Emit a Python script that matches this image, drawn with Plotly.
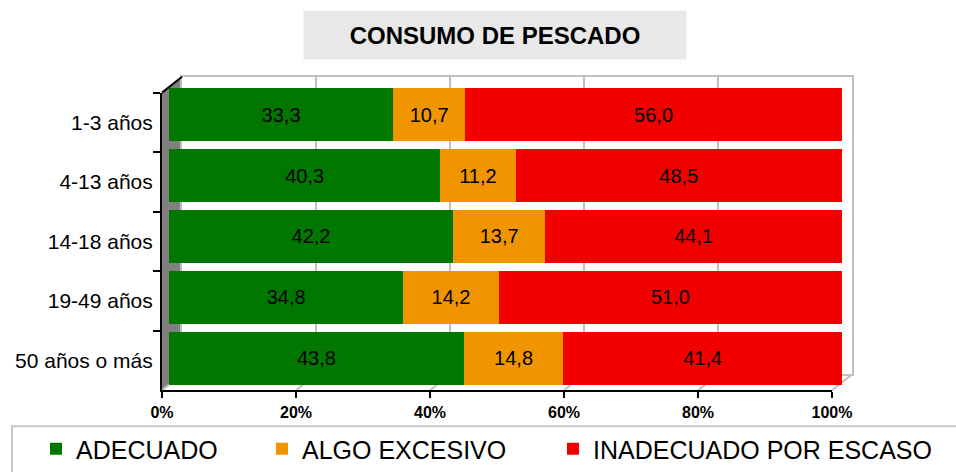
import plotly.graph_objects as go

W, H = 956, 472

categories = ["1-3 años", "4-13 años", "14-18 años", "19-49 años", "50 años o más"]
adecuado = [33.3, 40.3, 42.2, 34.8, 43.8]
algo_excesivo = [10.7, 11.2, 13.7, 14.2, 14.8]
inadecuado = [56.0, 48.5, 44.1, 51.0, 41.4]
series_names = ["ADECUADO", "ALGO EXCESIVO", "INADECUADO POR ESCASO"]
tick_values = [0, 20, 40, 60, 80, 100]
tick_labels = ["0%", "20%", "40%", "60%", "80%", "100%"]
title_text = "CONSUMO DE PESCADO"

colors = ["#007800", "#F09500", "#F20000"]
FONT = "Liberation Sans, Arial, sans-serif"


def fx(p):
    return p / W


def fy(p):
    return 1 - p / H


# geometry (pixels)
FRONT_L, FRONT_R, FRONT_T, FRONT_B = 162, 832, 93, 392
DX, DY = 20, -16
BACK_L, BACK_R, BACK_T, BACK_B = FRONT_L + DX, FRONT_R + DX, FRONT_T + DY, FRONT_B + DY
BAR_L, BAR_R, BAR_T, BAR_B = 169, 842, 84.4, 390.6
n = len(categories)

fig = go.Figure()

# back wall subplot (x / y)
fig.add_trace(go.Scatter(x=[], y=[], xaxis="x", yaxis="y", showlegend=False, hoverinfo="skip"))

# bars subplot (x2 / y2)
for name, vals, col, lg in zip(series_names, [adecuado, algo_excesivo, inadecuado], colors,
                               ["legend", "legend2", "legend3"]):
    fig.add_trace(go.Bar(
        y=categories, x=vals, name=name, orientation="h",
        xaxis="x2", yaxis="y2", legend=lg,
        marker=dict(color=col, line=dict(width=0)),
        text=vals, texttemplate="%{x:.1f}", textposition="inside",
        insidetextanchor="middle", textangle=0, constraintext="none",
        textfont=dict(family=FONT, size=20, color="black"),
        hoverinfo="skip",
    ))

# front axes subplot (x3 / y3)
fig.add_trace(go.Scatter(x=[0] * n, y=categories, xaxis="x3", yaxis="y3",
                         mode="markers", marker=dict(opacity=0), showlegend=False, hoverinfo="skip"))

scale = (FRONT_R - FRONT_L) / 100.0
shapes = []
# left wall
shapes.append(dict(type="path", xref="paper", yref="paper", layer="below",
                   path=f"M{fx(FRONT_L)},{fy(FRONT_T)} L{fx(BACK_L)},{fy(BACK_T)} L{fx(BACK_L)},{fy(BACK_B)} L{fx(FRONT_L)},{fy(FRONT_B)} Z",
                   fillcolor="#808080", line=dict(width=0)))
# floor diagonals
for v in tick_values:
    x0 = FRONT_L + v * scale
    shapes.append(dict(type="line", xref="paper", yref="paper", layer="below",
                       x0=fx(x0), y0=fy(FRONT_B), x1=fx(x0 + DX), y1=fy(BACK_B),
                       line=dict(color="#C0C0C0", width=2)))
# top-left black diagonal
shapes.append(dict(type="line", xref="paper", yref="paper", layer="above",
                   x0=fx(FRONT_L), y0=fy(FRONT_T), x1=fx(BACK_L), y1=fy(BACK_T),
                   line=dict(color="black", width=2)))
# legend box
shapes.append(dict(type="rect", xref="paper", yref="paper", layer="below",
                   x0=fx(12), y0=fy(428), x1=fx(970), y1=fy(490),
                   line=dict(color="#C8C8C8", width=2), fillcolor="rgba(0,0,0,0)"))

leg_common = dict(orientation="h", yanchor="middle", xanchor="left",
                  font=dict(family=FONT, size=25, color="black"),
                  bgcolor="rgba(0,0,0,0)", borderwidth=0)

fig.update_layout(
    width=W, height=H,
    margin=dict(l=0, r=0, t=0, b=0),
    paper_bgcolor="white", plot_bgcolor="rgba(0,0,0,0)",
    separators=",.",
    barmode="stack", bargap=0.118,
    font=dict(family=FONT, color="black"),
    hovermode=False,
    xaxis=dict(domain=[fx(BACK_L), fx(BACK_R)], range=[0, 100], anchor="y",
               tickvals=tick_values, showticklabels=False, ticks="",
               showgrid=True, gridcolor="#C0C0C0", gridwidth=2, zeroline=False,
               showline=True, mirror=True, linecolor="#C0C0C0", linewidth=2, fixedrange=True),
    yaxis=dict(domain=[fy(BACK_B), fy(BACK_T)], range=[0, 1], anchor="x",
               showticklabels=False, ticks="", showgrid=False, zeroline=False,
               showline=True, mirror=True, linecolor="#C0C0C0", linewidth=2, fixedrange=True),
    xaxis2=dict(domain=[fx(BAR_L), fx(BAR_R)], range=[0, 100], anchor="y2", visible=False),
    yaxis2=dict(domain=[fy(BAR_B), fy(BAR_T)], anchor="x2", type="category",
                range=[n - 0.5, -0.5], visible=False),
    xaxis3=dict(domain=[fx(FRONT_L), fx(FRONT_R)], range=[0, 100], anchor="y3",
                tickmode="array", tickvals=tick_values, ticktext=tick_labels,
                ticks="outside", ticklen=6,
                tickwidth=2, tickcolor="black", showline=True, linecolor="black",
                linewidth=2, showgrid=False, zeroline=False, automargin=False,
                tickfont=dict(family=FONT, size=16, color="black", weight="bold")),
    yaxis3=dict(domain=[fy(FRONT_B), fy(FRONT_T)], anchor="x3", type="category",
                range=[n - 0.5, -0.5], tickson="boundaries", ticks="outside", ticklen=7,
                tickwidth=2, tickcolor="black", showline=True, linecolor="black",
                linewidth=2, showgrid=False, zeroline=False, automargin=False,
                ticklabelstandoff=3,
                tickfont=dict(family=FONT, size=21, color="black")),
    legend=dict(x=fx(36), y=fy(451), **leg_common),
    legend2=dict(x=fx(262), y=fy(451), **leg_common),
    legend3=dict(x=fx(553), y=fy(451), **leg_common),
    shapes=shapes,
    annotations=[dict(
        text=title_text, xref="paper", yref="paper", x=fx(495), y=fy(35),
        xanchor="center", yanchor="middle", showarrow=False,
        width=380, height=46, bgcolor="#E8E8E8",
        font=dict(family=FONT, size=24, color="black", weight="bold"),
    )],
)

fig.write_html("out.html", config={"displayModeBar": False},
               post_script="document.body.style.margin='0';")
